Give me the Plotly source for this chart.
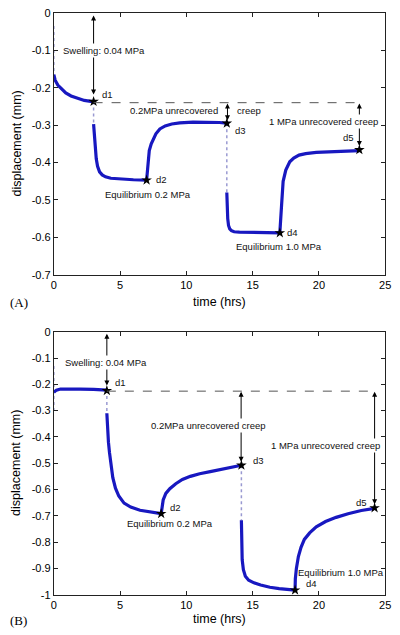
import plotly.graph_objects as go

# ---------------- data ----------------
# Panel A
a_t0 = [0, 0.1, 0.3, 0.6, 0.9, 1.3, 1.8, 2.3, 2.9, 3.0]
a_d0 = [-0.165, -0.180, -0.193, -0.205, -0.214, -0.222, -0.229, -0.234, -0.237, -0.237]
a_t1 = [3.0, 3.05, 3.12, 3.2, 3.3, 3.45, 3.65, 3.9, 4.3, 5.0, 6.0, 7.0]
a_d1 = [-0.297, -0.33, -0.365, -0.39, -0.41, -0.425, -0.433, -0.438, -0.442, -0.444, -0.446, -0.447]
a_t2 = [7.0, 7.05, 7.1, 7.2, 7.35, 7.5, 7.7, 8.0, 8.4, 8.9, 9.5, 10.5, 11.5, 12.5, 13.05]
a_d2 = [-0.447, -0.42, -0.393, -0.368, -0.35, -0.337, -0.323, -0.31, -0.302, -0.297, -0.294, -0.292, -0.292, -0.293, -0.295]
a_t3 = [13.05, 13.08, 13.12, 13.18, 13.27, 13.4, 13.6, 14.0, 15.0, 16.0, 17.05]
a_d3 = [-0.48, -0.52, -0.55, -0.568, -0.577, -0.582, -0.585, -0.586, -0.587, -0.587, -0.588]
a_t4 = [17.05, 17.1, 17.18, 17.3, 17.5, 17.8, 18.1, 18.5, 19.0, 19.8, 20.8, 22.0, 23.05]
a_d4 = [-0.588, -0.55, -0.515, -0.45, -0.42, -0.398, -0.388, -0.38, -0.376, -0.373, -0.371, -0.370, -0.368]
a_gap_t = [[0, 0], [3.0, 3.0], [13.05, 13.05]]
a_gap_d = [[-0.035, -0.165], [-0.237, -0.297], [-0.295, -0.48]]
a_star_t = [3.0, 7.0, 13.05, 17.05, 23.05]
a_star_d = [-0.237, -0.447, -0.295, -0.588, -0.366]

# Panel B
b_t0 = [0, 0.2, 0.5, 1.0, 2.0, 3.0, 4.0]
b_d0 = [-0.23, -0.222, -0.218, -0.217, -0.218, -0.219, -0.222]
b_t1 = [4.0, 4.05, 4.12, 4.2, 4.3, 4.45, 4.65, 4.9, 5.3, 5.8, 6.5, 7.3, 8.1]
b_d1 = [-0.31, -0.37, -0.42, -0.46, -0.51, -0.555, -0.595, -0.625, -0.652, -0.667, -0.679, -0.687, -0.692]
b_t2 = [8.1, 8.15, 8.25, 8.45, 8.75, 9.2, 9.7, 10.3, 11.0, 11.8, 12.6, 13.4, 14.15]
b_d2 = [-0.692, -0.665, -0.64, -0.615, -0.597, -0.578, -0.562, -0.55, -0.54, -0.532, -0.524, -0.516, -0.508]
b_t3 = [14.15, 14.17, 14.21, 14.3, 14.45, 14.7, 15.1, 15.6, 16.3, 17.0, 17.6, 18.2]
b_d3 = [-0.717, -0.8, -0.867, -0.905, -0.93, -0.945, -0.955, -0.963, -0.972, -0.977, -0.98, -0.983]
b_t4 = [18.2, 18.22, 18.3, 18.45, 18.65, 18.9, 19.3, 19.8, 20.5, 21.3, 22.2, 23.2, 24.2]
b_d4 = [-0.983, -0.94, -0.9, -0.855, -0.82, -0.79, -0.765, -0.742, -0.722, -0.706, -0.692, -0.68, -0.672]
b_gap_t = [[0, 0], [4.0, 4.0], [14.15, 14.15]]
b_gap_d = [[-0.13, -0.30], [-0.222, -0.31], [-0.508, -0.717]]
b_star_t = [4.0, 8.1, 14.15, 18.2, 24.2]
b_star_d = [-0.224, -0.692, -0.508, -0.983, -0.67]

x_ticks = [0, 5, 10, 15, 20, 25]
x_ticktext = ["0", "5", "10", "15", "20", "25"]
ya_ticks = [0, -0.1, -0.2, -0.3, -0.4, -0.5, -0.6, -0.7]
ya_ticktext = ["0", "-0.1", "-0.2", "-0.3", "-0.4", "-0.5", "-0.6", "-0.7"]
yb_ticks = [0, -0.1, -0.2, -0.3, -0.4, -0.5, -0.6, -0.7, -0.8, -0.9, -1]
yb_ticktext = ["0", "-0.1", "-0.2", "-0.3", "-0.4", "-0.5", "-0.6", "-0.7", "-0.8", "-0.9", "-1"]

# ---------------- figure ----------------
W, H = 400, 635
BLUE = "#1818c0"
GAPC = "rgba(110,110,190,0.7)"
FONT = "Liberation Sans, Arial, Helvetica, sans-serif"

fig = go.Figure()

def add_panel(xa, ya, segs, gaps_t, gaps_d, st, sd):
    for gt, gd in zip(gaps_t, gaps_d):
        fig.add_trace(go.Scatter(x=gt, y=gd, mode="lines", xaxis=xa, yaxis=ya,
                                 line=dict(color=GAPC, width=1.5, dash="dot"),
                                 showlegend=False, hoverinfo="skip"))
    for t, d in segs:
        fig.add_trace(go.Scatter(x=t, y=d, mode="lines", xaxis=xa, yaxis=ya,
                                 line=dict(color=BLUE, width=3.2),
                                 showlegend=False))
    fig.add_trace(go.Scatter(x=st, y=sd, mode="markers", xaxis=xa, yaxis=ya,
                             marker=dict(symbol="star", size=8, color="black"),
                             showlegend=False))

add_panel("x", "y", [(a_t0, a_d0), (a_t1, a_d1), (a_t2, a_d2), (a_t3, a_d3), (a_t4, a_d4)],
          a_gap_t, a_gap_d, a_star_t, a_star_d)
add_panel("x2", "y2", [(b_t0, b_d0), (b_t1, b_d1), (b_t2, b_d2), (b_t3, b_d3), (b_t4, b_d4)],
          b_gap_t, b_gap_d, b_star_t, b_star_d)

axis_common = dict(showline=True, linecolor="#222", linewidth=1, mirror="ticks",
                   ticks="inside", ticklen=4, tickcolor="#222", showgrid=False,
                   zeroline=False, tickfont=dict(family=FONT, size=11, color="black"))

xdom = [52 / W, 391 / W]
fig.update_layout(
    width=W, height=H, margin=dict(l=0, r=0, t=0, b=0),
    paper_bgcolor="white", plot_bgcolor="white",
    font=dict(family=FONT, color="black"),
    xaxis=dict(domain=xdom, range=[0, 25], tickvals=x_ticks, ticktext=x_ticktext,
               anchor="y", ticklabeloverflow="allow", **axis_common),
    yaxis=dict(domain=[1 - 274 / H, 1 - 7 / H], range=[-0.7, 0], tickvals=ya_ticks,
               ticktext=ya_ticktext, anchor="x", **axis_common),
    xaxis2=dict(domain=xdom, range=[0, 25], tickvals=x_ticks, ticktext=x_ticktext,
                anchor="y2", ticklabeloverflow="allow", **axis_common),
    yaxis2=dict(domain=[1 - 600 / H, 1 - 332 / H], range=[-1, 0], tickvals=yb_ticks,
                ticktext=yb_ticktext, anchor="x2", **axis_common),
)

shapes = [
    dict(type="line", xref="x", yref="y", x0=3.0, x1=23.05, y0=-0.24, y1=-0.24,
         line=dict(color="#555", width=1, dash="dash")),
    dict(type="line", xref="x2", yref="y2", x0=4.0, x1=24.2, y0=-0.226, y1=-0.226,
         line=dict(color="#555", width=1, dash="dash")),
]
fig.update_layout(shapes=shapes)

anns = []

def arrow(xr, yr, x, y0, y1):
    anns.append(dict(xref=xr, yref=yr, axref=xr, ayref=yr, x=x, y=y0, ax=x, ay=y1,
                     text="", showarrow=True, arrowhead=2, arrowside="end+start",
                     arrowsize=1, arrowwidth=1, arrowcolor="black"))

def label(xr, yr, x, y, txt, anchor="center", bg=None, size=9.5):
    d = dict(xref=xr, yref=yr, x=x, y=y, text=txt, showarrow=False, xanchor=anchor,
             yanchor="middle", font=dict(family=FONT, size=size, color="#111"))
    if bg:
        d["bgcolor"] = bg
    anns.append(d)

# Panel A arrows
arrow("x", "y", 3.0, -0.007, -0.222)
arrow("x", "y", 13.1, -0.242, -0.291)
arrow("x", "y", 23.05, -0.242, -0.36)
# Panel B arrows
arrow("x2", "y2", 4.0, -0.008, -0.21)
arrow("x2", "y2", 14.13, -0.228, -0.5)
arrow("x2", "y2", 24.2, -0.228, -0.662)

# Panel A labels
label("x", "y", 3.76, -0.1016, "Swelling: 0.04 MPa", bg="white")
label("x", "y", 3.45, -0.218, "d1", anchor="left")
label("x", "y", 9.07, -0.262, "0.2MPa unrecovered")
label("x", "y", 13.64, -0.262, "creep", anchor="left")
label("x", "y", 20.33, -0.289, "1 MPa unrecovered creep", bg="white")
label("x", "y", 22.2, -0.333, "d5")
label("x", "y", 7.55, -0.446, "d2", anchor="left")
label("x", "y", 7.12, -0.485, "Equilibrium 0.2 MPa")
label("x", "y", 13.55, -0.315, "d3", anchor="left")
label("x", "y", 17.45, -0.588, "d4", anchor="left")
label("x", "y", 16.96, -0.625, "Equilibrium 1.0 MPa")

# Panel B labels
label("x2", "y2", 3.91, -0.118, "Swelling: 0.04 MPa", bg="white")
label("x2", "y2", 4.45, -0.193, "d1", anchor="left")
label("x2", "y2", 11.67, -0.356, "0.2MPa unrecovered creep", bg="white")
label("x2", "y2", 14.85, -0.49, "d3", anchor="left")
label("x2", "y2", 20.5, -0.431, "1 MPa unrecovered creep", bg="white")
label("x2", "y2", 23.24, -0.649, "d5")
label("x2", "y2", 8.64, -0.67, "d2", anchor="left")
label("x2", "y2", 8.77, -0.728, "Equilibrium 0.2 MPa")
label("x2", "y2", 21.7, -0.915, "Equilibrium 1.0 MPa")
label("x2", "y2", 18.85, -0.957, "d4", anchor="left")

# axis titles and panel tags
for yc in [140.5, 466]:
    anns.append(dict(xref="paper", yref="paper", x=14 / W, y=1 - yc / H, text="displacement (mm)",
                     textangle=-90, showarrow=False, xanchor="center", yanchor="middle",
                     font=dict(family=FONT, size=12.5, color="black")))
for yc in [302, 625]:
    anns.append(dict(xref="paper", yref="paper", x=221 / W, y=1 - yc / H, text="time (hrs)",
                     showarrow=False, xanchor="center", yanchor="middle",
                     font=dict(family=FONT, size=12.5, color="black")))
for yc, tag in [(302, "(A)"), (626, "(B)")]:
    anns.append(dict(xref="paper", yref="paper", x=16 / W, y=1 - yc / H, text=tag,
                     showarrow=False, xanchor="center", yanchor="middle",
                     font=dict(family="Liberation Serif, Times New Roman, serif", size=13, color="black")))

fig.update_layout(annotations=anns)
fig.write_html("out.html", config={"displayModeBar": False},
               post_script="document.body.style.margin='0';document.body.style.overflow='hidden';")
